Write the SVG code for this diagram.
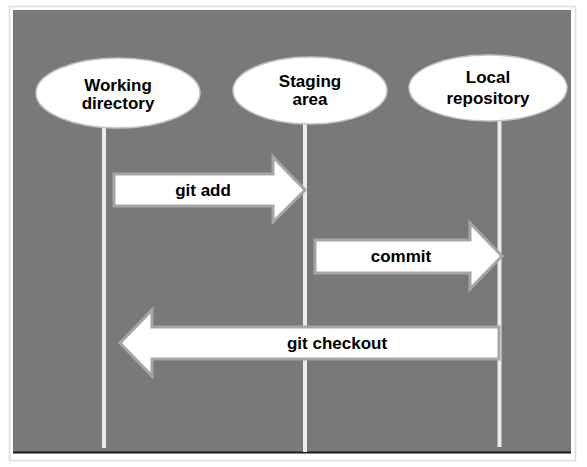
<svg xmlns="http://www.w3.org/2000/svg" width="587" height="467" viewBox="0 0 587 467">
<defs>
<style>
.lbl{font-family:"Liberation Sans",Arial,sans-serif;font-weight:bold;font-size:17px;fill:#000;text-anchor:middle}
.node{fill:#fff;stroke:#c4c4c4;stroke-width:1.5}
.life{stroke:#ececec;stroke-width:4;fill:none}
.arr{fill:#fff;stroke:#a6a6a6;stroke-width:3;stroke-linejoin:miter}
</style>
</defs>
<rect x="0" y="0" width="587" height="467" fill="#fff"/>
<rect x="9.5" y="6.5" width="566" height="454" fill="#fff" stroke="#dcdcdc" stroke-width="1.5"/>
<rect x="13" y="10" width="558" height="442" fill="#797979"/>
<line x1="13" y1="452.5" x2="571" y2="452.5" stroke="#1a1a1a" stroke-width="1.8"/>
<g id="connectors">
<line class="life" x1="104" y1="127" x2="104" y2="448"/>
<line class="life" x1="305" y1="123" x2="305" y2="452"/>
<line class="life" x1="499.5" y1="120" x2="499.5" y2="447"/>
<g id="edge-git-add">
<polygon class="arr" points="114,174 273,174 273,157 305,190 273,222 273,206 114,206"/>
<text class="lbl" x="203" y="196">git add</text>
</g>
<g id="edge-commit">
<polygon class="arr" points="315,240 470,240 470,223 502,256 470,289 470,273 315,273"/>
<text class="lbl" x="401" y="262">commit</text>
</g>
<g id="edge-git-checkout">
<polygon class="arr" points="499,327 152,327 152,310 120,343 152,376 152,359 499,359"/>
<text class="lbl" x="337" y="349">git checkout</text>
</g>
</g>
<g id="working-directory">
<ellipse class="node" cx="118" cy="93" rx="82" ry="35"/>
<text class="lbl" x="118" y="91">Working</text>
<text class="lbl" x="118" y="109">directory</text>
</g>
<g id="staging-area">
<ellipse class="node" cx="310" cy="90.5" rx="77" ry="33.5"/>
<text class="lbl" x="310" y="87">Staging</text>
<text class="lbl" x="310" y="105">area</text>
</g>
<g id="local-repository">
<ellipse class="node" cx="488" cy="88" rx="79" ry="33"/>
<text class="lbl" x="488" y="83">Local</text>
<text class="lbl" x="488" y="104">repository</text>
</g>
</svg>
